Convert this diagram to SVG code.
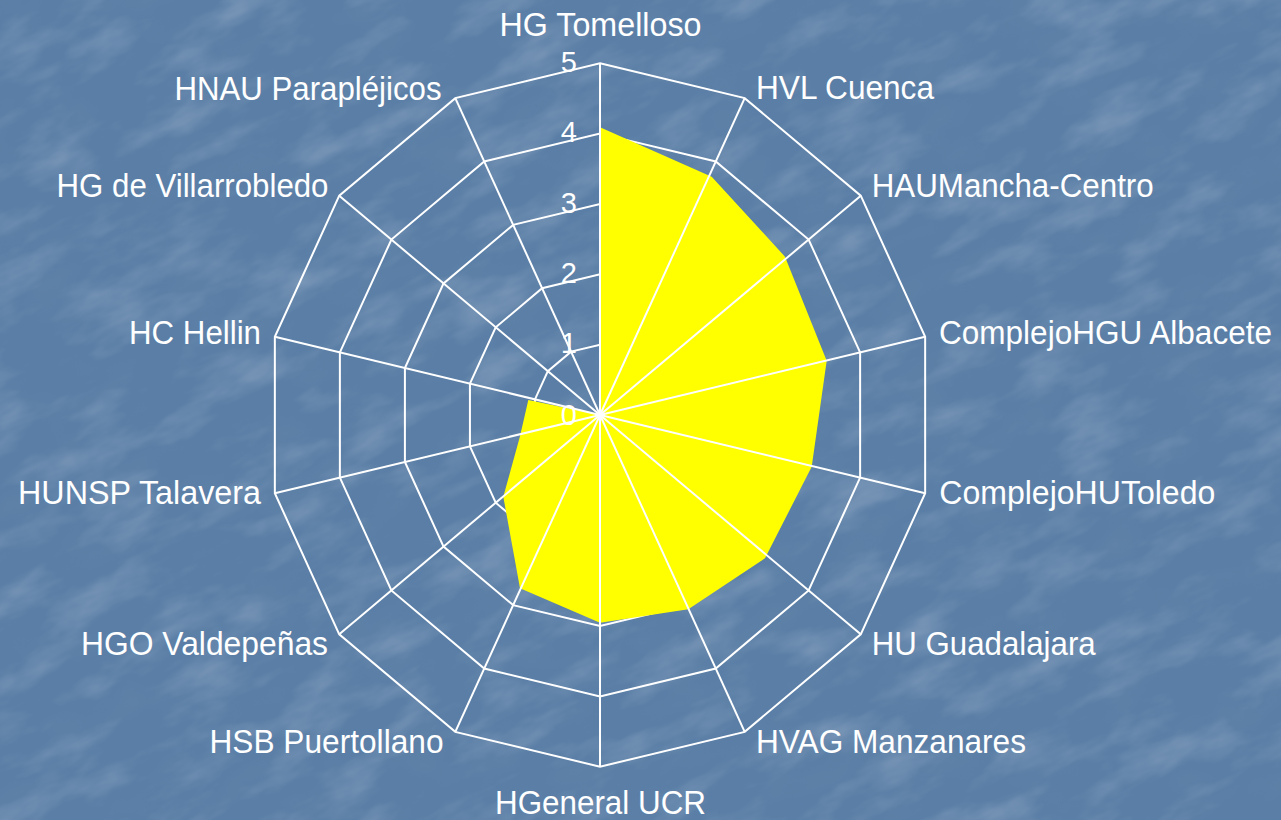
<svg xmlns="http://www.w3.org/2000/svg" width="1281" height="820" viewBox="0 0 1281 820">
<defs>
<filter id="tex" x="0" y="0" width="100%" height="100%" filterUnits="objectBoundingBox">
<feTurbulence type="fractalNoise" baseFrequency="0.012 0.03" numOctaves="4" seed="7" result="n"/>
<feColorMatrix in="n" type="matrix" values="0 0 0 0 1  0 0 0 0 1  0 0 0 0 1  0 0 0 1.3 -0.6"/>
</filter>
<filter id="tex2" x="0" y="0" width="100%" height="100%" filterUnits="objectBoundingBox">
<feTurbulence type="fractalNoise" baseFrequency="0.015 0.025" numOctaves="3" seed="2" result="n"/>
<feColorMatrix in="n" type="matrix" values="0 0 0 0 0.2  0 0 0 0 0.3  0 0 0 0 0.45  0 0 0 1.2 -0.55"/>
</filter>
<style>
.lbl{font-family:"Liberation Sans",Arial,sans-serif;font-size:33px;fill:#ffffff;}
.num{font-family:"Liberation Sans",Arial,sans-serif;font-size:29px;fill:#ffffff;text-anchor:end;}
.ring{fill:none;stroke:#ffffff;stroke-width:2;stroke-linejoin:miter;}
.spoke{stroke:#ffffff;stroke-width:2;}
.e{text-anchor:end;}
.m{text-anchor:middle;}
</style>
</defs>
<rect x="0" y="0" width="1281" height="820" fill="#5a7ea6"/>
<g transform="rotate(-25 640 410)" opacity="0.3">
<rect x="-400" y="-500" width="2100" height="1800" filter="url(#tex2)"/>
<rect x="-400" y="-500" width="2100" height="1800" filter="url(#tex)"/>
</g>
<g id="grid">
<polygon class="ring" points="600,344.66 628.94,351.63 652.15,371.14 665.03,399.35 665.03,430.65 652.15,458.86 628.94,478.37 600,485.34 571.06,478.37 547.85,458.86 534.97,430.65 534.97,399.35 547.85,371.14 571.06,351.63"/>
<polygon class="ring" points="600,274.32 657.88,288.26 704.3,327.28 730.06,383.7 730.06,446.3 704.3,502.72 657.88,541.74 600,555.68 542.12,541.74 495.7,502.72 469.94,446.3 469.94,383.7 495.7,327.28 542.12,288.26"/>
<polygon class="ring" points="600,203.98 686.82,224.89 756.45,283.42 795.09,368.05 795.09,461.95 756.45,546.58 686.82,605.11 600,626.02 513.18,605.11 443.55,546.58 404.91,461.95 404.91,368.05 443.55,283.42 513.18,224.89"/>
<polygon class="ring" points="600,133.64 715.76,161.52 808.6,239.56 860.12,352.4 860.12,477.6 808.6,590.44 715.76,668.48 600,696.36 484.24,668.48 391.4,590.44 339.88,477.6 339.88,352.4 391.4,239.56 484.24,161.52"/>
<polygon class="ring" points="600,63.3 744.7,98.15 860.75,195.7 925.15,336.75 925.15,493.25 860.75,634.3 744.7,731.85 600,766.7 455.3,731.85 339.25,634.3 274.85,493.25 274.85,336.75 339.25,195.7 455.3,98.15"/>
</g>
<g id="series">
<polygon fill="#ffff00" points="600,127.3 711.7,176.7 785,256.7 826.7,360.7 811.7,466.7 765,558.3 688.3,609.3 600,622.7 520,588.3 503.3,496.7 520,436.3 528.3,400 600,415"/>
</g>
<g id="connectors">
<line class="spoke" x1="600" y1="415" x2="600" y2="63.3"/>
<line class="spoke" x1="600" y1="415" x2="744.7" y2="98.15"/>
<line class="spoke" x1="600" y1="415" x2="860.75" y2="195.7"/>
<line class="spoke" x1="600" y1="415" x2="925.15" y2="336.75"/>
<line class="spoke" x1="600" y1="415" x2="925.15" y2="493.25"/>
<line class="spoke" x1="600" y1="415" x2="860.75" y2="634.3"/>
<line class="spoke" x1="600" y1="415" x2="744.7" y2="731.85"/>
<line class="spoke" x1="600" y1="415" x2="600" y2="766.7"/>
<line class="spoke" x1="600" y1="415" x2="455.3" y2="731.85"/>
<line class="spoke" x1="600" y1="415" x2="339.25" y2="634.3"/>
<line class="spoke" x1="600" y1="415" x2="274.85" y2="493.25"/>
<line class="spoke" x1="600" y1="415" x2="274.85" y2="336.75"/>
<line class="spoke" x1="600" y1="415" x2="339.25" y2="195.7"/>
<line class="spoke" x1="600" y1="415" x2="455.3" y2="98.15"/>
</g>
<g id="axis-values">
<text class="num" x="577" y="72">5</text>
<text class="num" x="577" y="142">4</text>
<text class="num" x="577" y="212.5">3</text>
<text class="num" x="577" y="283">2</text>
<text class="num" x="577" y="353.3">1</text>
<text class="num" x="577" y="425">0</text>
</g>
<g id="n-tomelloso"><text class="lbl m" x="600.5" y="36" textLength="202" lengthAdjust="spacingAndGlyphs">HG Tomelloso</text></g>
<g id="n-cuenca"><text class="lbl" x="756" y="99.3" textLength="178" lengthAdjust="spacingAndGlyphs">HVL Cuenca</text></g>
<g id="n-mancha"><text class="lbl" x="871.7" y="196.7" textLength="282" lengthAdjust="spacingAndGlyphs">HAUMancha-Centro</text></g>
<g id="n-albacete"><text class="lbl" x="939" y="344.3" textLength="333" lengthAdjust="spacingAndGlyphs">ComplejoHGU Albacete</text></g>
<g id="n-toledo"><text class="lbl" x="939.3" y="504" textLength="276" lengthAdjust="spacingAndGlyphs">ComplejoHUToledo</text></g>
<g id="n-guadalajara"><text class="lbl" x="871.7" y="655" textLength="224" lengthAdjust="spacingAndGlyphs">HU Guadalajara</text></g>
<g id="n-manzanares"><text class="lbl" x="756" y="753" textLength="270" lengthAdjust="spacingAndGlyphs">HVAG Manzanares</text></g>
<g id="n-ucr"><text class="lbl m" x="600.5" y="814" textLength="211" lengthAdjust="spacingAndGlyphs">HGeneral UCR</text></g>
<g id="n-puertollano"><text class="lbl e" x="443.5" y="753" textLength="234" lengthAdjust="spacingAndGlyphs">HSB Puertollano</text></g>
<g id="n-valdepenas"><text class="lbl e" x="328" y="655" textLength="247" lengthAdjust="spacingAndGlyphs">HGO Valdepeñas</text></g>
<g id="n-talavera"><text class="lbl e" x="261" y="504" textLength="243" lengthAdjust="spacingAndGlyphs">HUNSP Talavera</text></g>
<g id="n-hellin"><text class="lbl e" x="261" y="344.3" textLength="132" lengthAdjust="spacingAndGlyphs">HC Hellin</text></g>
<g id="n-villarrobledo"><text class="lbl e" x="328.5" y="196.7" textLength="272" lengthAdjust="spacingAndGlyphs">HG de Villarrobledo</text></g>
<g id="n-paraplejicos"><text class="lbl e" x="441.5" y="100" textLength="267" lengthAdjust="spacingAndGlyphs">HNAU Parapléjicos</text></g>
</svg>
